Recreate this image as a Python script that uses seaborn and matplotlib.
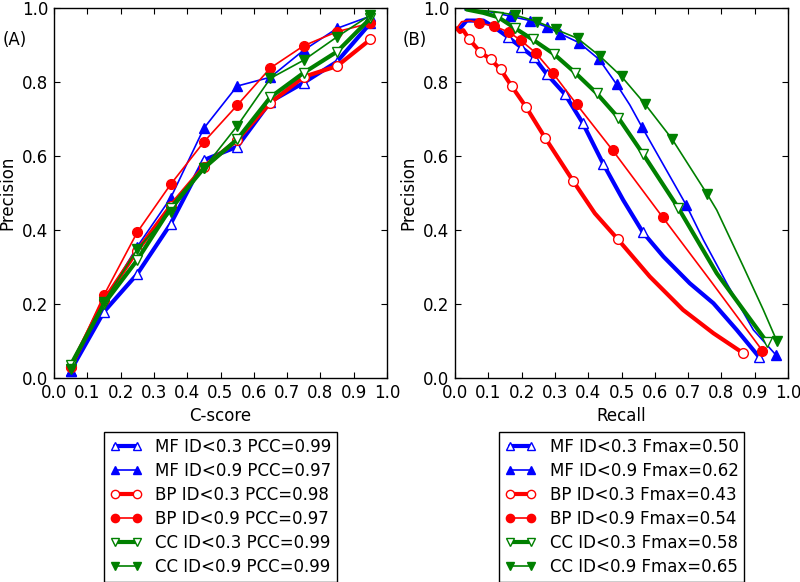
import matplotlib
matplotlib.use("Agg")
import matplotlib.pyplot as plt
import seaborn as sns
import pandas as pd

# --- dados do painel (A): precisão por faixa de C-score ---
cscore = [0.05, 0.15, 0.25, 0.35, 0.45, 0.55, 0.65, 0.75, 0.85, 0.95]
a_mf03 = [0.020, 0.179, 0.281, 0.416, 0.589, 0.625, 0.747, 0.798, 0.855, 0.959]
a_mf09 = [0.020, 0.206, 0.355, 0.486, 0.675, 0.789, 0.813, 0.886, 0.945, 0.978]
a_bp03 = [0.030, 0.210, 0.344, 0.465, 0.571, 0.643, 0.744, 0.814, 0.843, 0.915]
a_bp09 = [0.030, 0.224, 0.394, 0.523, 0.638, 0.737, 0.838, 0.898, 0.936, 0.959]
a_cc03 = [0.035, 0.200, 0.319, 0.459, 0.567, 0.645, 0.759, 0.825, 0.882, 0.972]
a_cc09 = [0.025, 0.206, 0.348, 0.449, 0.567, 0.681, 0.810, 0.859, 0.922, 0.981]
a_labels = ["MF ID<0.3 PCC=0.99", "MF ID<0.9 PCC=0.97", "BP ID<0.3 PCC=0.98",
            "BP ID<0.9 PCC=0.97", "CC ID<0.3 PCC=0.99", "CC ID<0.9 PCC=0.99"]

# --- dados do painel (B): curvas precisão x recall ---
b_mf03_rec = [0.015, 0.035, 0.085, 0.115, 0.158, 0.197, 0.237, 0.275, 0.330, 0.383, 0.445, 0.505, 0.564, 0.626, 0.705, 0.776, 0.846, 0.912]
b_mf03_pre = [0.945, 0.966, 0.966, 0.950, 0.922, 0.895, 0.867, 0.822, 0.767, 0.690, 0.579, 0.481, 0.394, 0.328, 0.256, 0.202, 0.130, 0.058]
b_mf03_mk = [4, 5, 6, 7, 8, 9, 10, 12, 17]

b_mf09_rec = [0.030, 0.105, 0.165, 0.225, 0.275, 0.315, 0.373, 0.433, 0.485, 0.525, 0.561, 0.694, 0.746, 0.816, 0.896, 0.964]
b_mf09_pre = [0.995, 0.990, 0.978, 0.966, 0.949, 0.931, 0.906, 0.861, 0.794, 0.738, 0.679, 0.468, 0.373, 0.256, 0.130, 0.062]
b_mf09_mk = [2, 3, 4, 5, 6, 7, 8, 10, 11, 15]

b_bp03_rec = [0.005, 0.015, 0.025, 0.043, 0.075, 0.107, 0.137, 0.170, 0.213, 0.270, 0.355, 0.420, 0.489, 0.585, 0.685, 0.776, 0.864]
b_bp03_pre = [0.945, 0.935, 0.940, 0.915, 0.882, 0.861, 0.834, 0.789, 0.733, 0.650, 0.532, 0.445, 0.375, 0.274, 0.184, 0.121, 0.068]
b_bp03_mk = [3, 4, 5, 6, 7, 8, 9, 10, 12, 16]

b_bp09_rec = [0.005, 0.020, 0.045, 0.073, 0.118, 0.163, 0.197, 0.242, 0.295, 0.365, 0.473, 0.624, 0.768, 0.923]
b_bp09_pre = [0.945, 0.963, 0.966, 0.959, 0.951, 0.934, 0.913, 0.879, 0.823, 0.740, 0.616, 0.434, 0.262, 0.074]
b_bp09_mk = [3, 4, 5, 6, 7, 8, 9, 10, 11, 13]

b_cc03_rec = [0.035, 0.085, 0.130, 0.181, 0.233, 0.298, 0.361, 0.425, 0.490, 0.565, 0.671, 0.786, 0.866, 0.936]
b_cc03_pre = [0.996, 0.987, 0.975, 0.945, 0.915, 0.875, 0.825, 0.770, 0.704, 0.605, 0.459, 0.283, 0.184, 0.098]
b_cc03_mk = [2, 3, 4, 5, 6, 7, 8, 9, 10, 13]

b_cc09_rec = [0.045, 0.120, 0.180, 0.247, 0.303, 0.368, 0.435, 0.500, 0.571, 0.651, 0.758, 0.786, 0.866, 0.926, 0.966]
b_cc09_pre = [0.996, 0.990, 0.981, 0.963, 0.942, 0.918, 0.870, 0.815, 0.740, 0.647, 0.496, 0.454, 0.301, 0.184, 0.101]
b_cc09_mk = [2, 3, 4, 5, 6, 7, 8, 9, 10, 14]

b_labels = ["MF ID<0.3 Fmax=0.50", "MF ID<0.9 Fmax=0.62", "BP ID<0.3 Fmax=0.43",
            "BP ID<0.9 Fmax=0.54", "CC ID<0.3 Fmax=0.58", "CC ID<0.9 Fmax=0.65"]

# estilo de cada série: (cor, marcador, preenchido, linha grossa)
STYLES = [
    ("blue", "^", False, True),
    ("blue", "^", True, False),
    ("red", "o", False, True),
    ("red", "o", True, False),
    ("green", "v", False, True),
    ("green", "v", True, False),
]

sns.set_style("ticks", {"xtick.direction": "in", "ytick.direction": "in",
                        "axes.edgecolor": "black", "xtick.color": "black",
                        "ytick.color": "black", "text.color": "black",
                        "axes.labelcolor": "black"})
plt.rcParams.update({
    "font.family": ["DejaVu Sans"],
    "font.size": 12,
    "xtick.top": True,
    "ytick.right": True,
    "xtick.major.size": 4,
    "ytick.major.size": 4,
    "xtick.major.pad": 4,
    "ytick.major.pad": 4,
    "axes.linewidth": 1.0,
})


def draw(ax, x, y, style, label, marks=None):
    color, marker, filled, thick = style
    df = pd.DataFrame({"x": x, "y": y})
    sns.lineplot(
        data=df, x="x", y="y", ax=ax, sort=False, estimator=None,
        color=color, lw=3.0 if thick else 1.2,
        marker=marker, markersize=7,
        markerfacecolor=color if filled else "white",
        markeredgecolor=color, markeredgewidth=1.0,
        markevery=marks, label=label,
    )


def finish(ax, xlabel):
    ax.set_xlim(0, 1)
    ax.set_ylim(0, 1)
    ax.set_xticks([i / 10 for i in range(11)])
    ax.set_yticks([0, 0.2, 0.4, 0.6, 0.8, 1.0])
    ax.set_xlabel(xlabel)
    ax.set_ylabel("Precision")
    for s in ax.spines.values():
        s.set_visible(True)
        s.set_color("black")
    leg = ax.legend(loc="upper center", bbox_to_anchor=(0.5, -0.146),
                    borderaxespad=0, numpoints=2, fancybox=False,
                    framealpha=1, edgecolor="black", fontsize=12,
                    handlelength=1.9, labelspacing=0.36, markerscale=0.85,
                    borderpad=0.35)
    leg.get_frame().set_linewidth(1.0)
    for t in leg.get_texts():
        t.set_color("black")


fig = plt.figure(figsize=(8.0, 5.82), dpi=100)
ax_a = fig.add_axes([54 / 800, 1 - 378 / 582, 333 / 800, 370 / 582])
ax_b = fig.add_axes([455 / 800, 1 - 378 / 582, 333 / 800, 370 / 582])

series_a = [a_mf03, a_mf09, a_bp03, a_bp09, a_cc03, a_cc09]
for vals, st, lab in zip(series_a, STYLES, a_labels):
    draw(ax_a, cscore, vals, st, lab)

series_b = [
    (b_mf03_rec, b_mf03_pre, b_mf03_mk),
    (b_mf09_rec, b_mf09_pre, b_mf09_mk),
    (b_bp03_rec, b_bp03_pre, b_bp03_mk),
    (b_bp09_rec, b_bp09_pre, b_bp09_mk),
    (b_cc03_rec, b_cc03_pre, b_cc03_mk),
    (b_cc09_rec, b_cc09_pre, b_cc09_mk),
]
for (rx, py, mk), st, lab in zip(series_b, STYLES, b_labels):
    draw(ax_b, rx, py, st, lab, marks=mk)

finish(ax_a, "C-score")
finish(ax_b, "Recall")

fig.text(3 / 800, 1 - 40 / 582, "(A)", va="center", ha="left", fontsize=12)
fig.text(403 / 800, 1 - 40 / 582, "(B)", va="center", ha="left", fontsize=12)

fig.savefig("out.png", dpi=100)
